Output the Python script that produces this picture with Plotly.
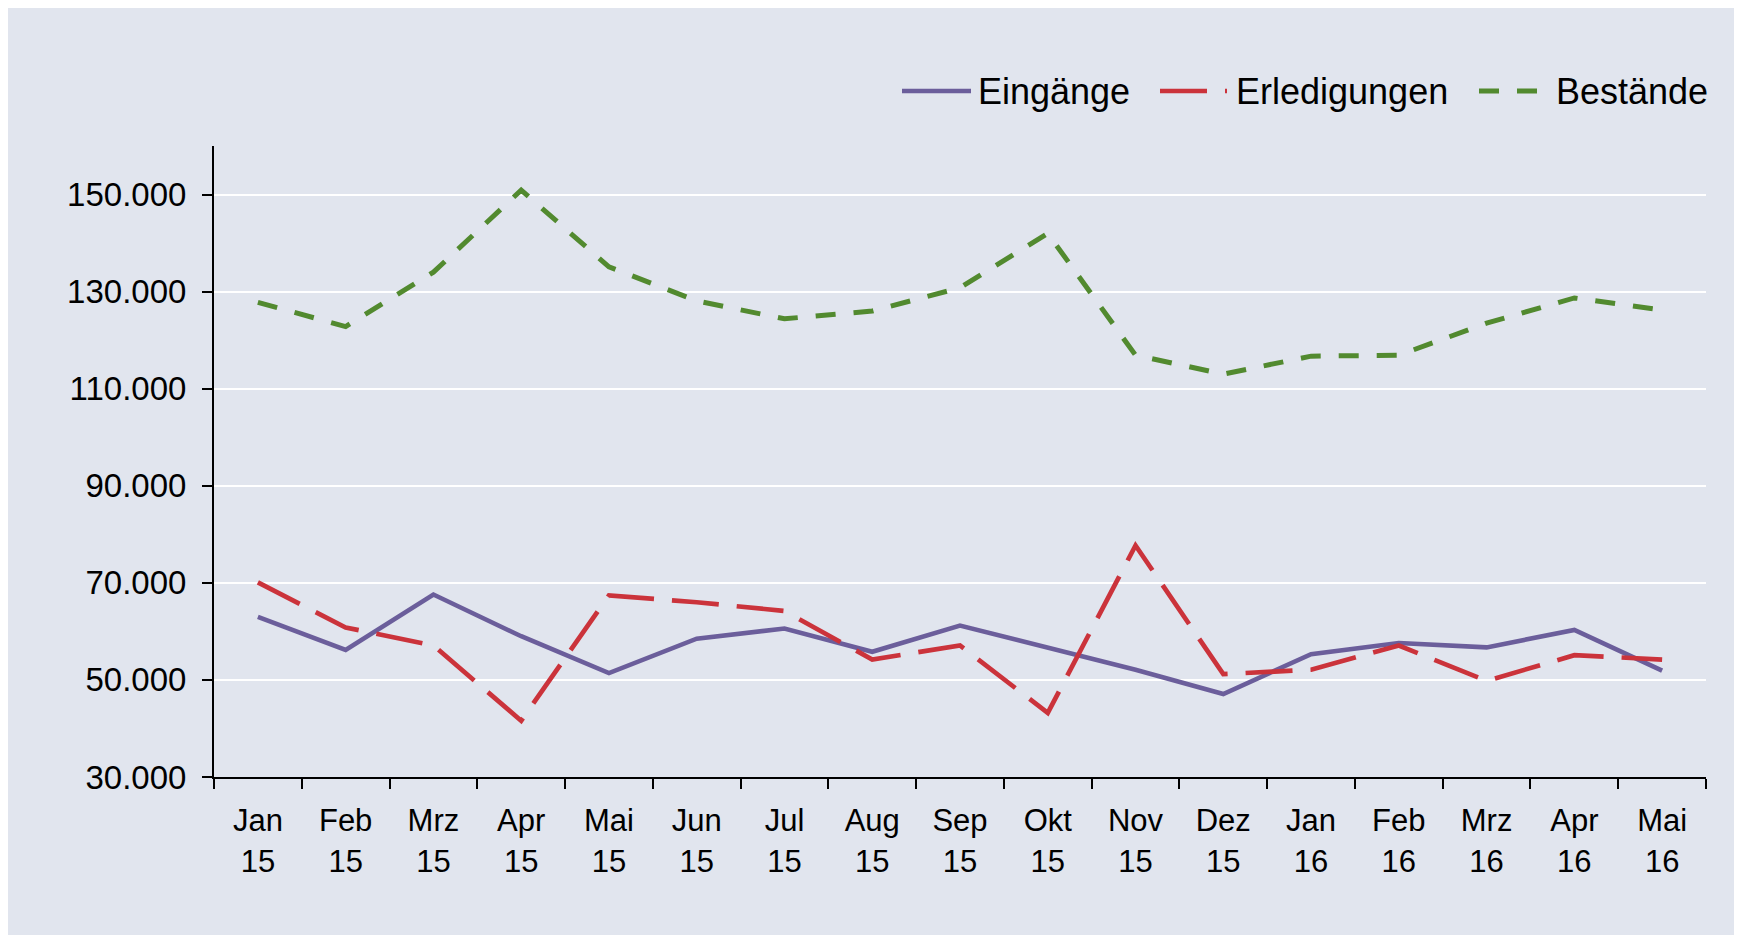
import plotly.graph_objects as go

months = ["Jan", "Feb", "Mrz", "Apr", "Mai", "Jun", "Jul", "Aug", "Sep", "Okt", "Nov", "Dez",
          "Jan", "Feb", "Mrz", "Apr", "Mai"]
years = ["15"] * 12 + ["16"] * 5
categories = [f"{m}<br>{y}" for m, y in zip(months, years)]

eingaenge = [63000, 56200, 67600, 59000, 51400, 58500, 60600, 55800, 61200, 56700,
             52100, 47100, 55300, 57600, 56700, 60300, 51900]
erledigungen = [70100, 60800, 57100, 41600, 67400, 66000, 64200, 54200, 57100, 43200,
                77700, 51200, 52100, 57100, 49800, 55100, 54200]
bestaende = [127800, 122800, 134000, 150900, 135100, 128100, 124400, 126000, 130800, 142000,
             116900, 113000, 116700, 116900, 123500, 128700, 126200]

series_names = ["Eingänge", "Erledigungen", "Bestände"]
colors = ["#6B5E9B", "#CB333B", "#528A2F"]
dashes = ["solid", "47px,18px", "20px,18px"]
widths = [4.6, 4.7, 5]

# page offset (body margin) of 8px
OX, OY = 8, 8
W, H = 1742, 935
L, R, T, B = 214 - OX, 1742 - (1706 - OX), 146 - OY, 935 - (777 - OY)
PW, PH = W - L - R, H - T - B
BG = "#E1E5EE"

def px_x(p):
    return (p - OX - L) / PW

def px_y(p):
    return 1 - (p - OY - T) / PH

fig = go.Figure()
for name, vals, c, d, w in zip(series_names, [eingaenge, erledigungen, bestaende], colors, dashes, widths):
    fig.add_trace(go.Scatter(x=categories, y=vals, mode="lines", name=name,
                             line=dict(color=c, width=w, dash=d), showlegend=False))

shapes = []
annotations = []
legend_items = [(902, 971, 979), (1160, 1227, 1237), (1479, 1541, 1557)]
ly = 91
for (x0, x1, tx), name, c, d, w in zip(legend_items, series_names, colors, dashes, widths):
    shapes.append(dict(type="line", xref="paper", yref="paper", x0=px_x(x0), x1=px_x(x1),
                       y0=px_y(ly), y1=px_y(ly), line=dict(color=c, width=w, dash=d)))
    annotations.append(dict(text=name, xref="paper", yref="paper", x=px_x(tx - 3), y=px_y(ly),
                            xanchor="left", yanchor="middle", showarrow=False,
                            font=dict(size=36, color="black", family="Liberation Sans, Arial, sans-serif")))

fig.update_layout(
    width=W, height=H,
    margin=dict(l=L, r=R, t=T, b=B, pad=0),
    paper_bgcolor=BG, plot_bgcolor=BG,
    separators=",.",
    font=dict(family="Liberation Sans, Arial, sans-serif", size=32, color="black"),
    shapes=shapes, annotations=annotations,
    showlegend=False,
    xaxis=dict(type="category", range=[-0.5, len(categories) - 0.5],
               showline=True, linecolor="black", linewidth=2,
               ticks="outside", tickson="boundaries", ticklen=10, tickwidth=2, tickcolor="black",
               showgrid=False, zeroline=False, tickfont=dict(size=31),
               ticklabelstandoff=15),
    yaxis=dict(range=[30000, 160000], tick0=30000, dtick=20000, tickformat=",d",
               showline=True, linecolor="black", linewidth=2,
               ticks="outside", ticklen=10, tickwidth=2, tickcolor="black",
               showgrid=True, gridcolor="white", gridwidth=2, zeroline=False,
               tickfont=dict(size=33), ticklabelstandoff=9),
)

fig.write_html("out.html")
